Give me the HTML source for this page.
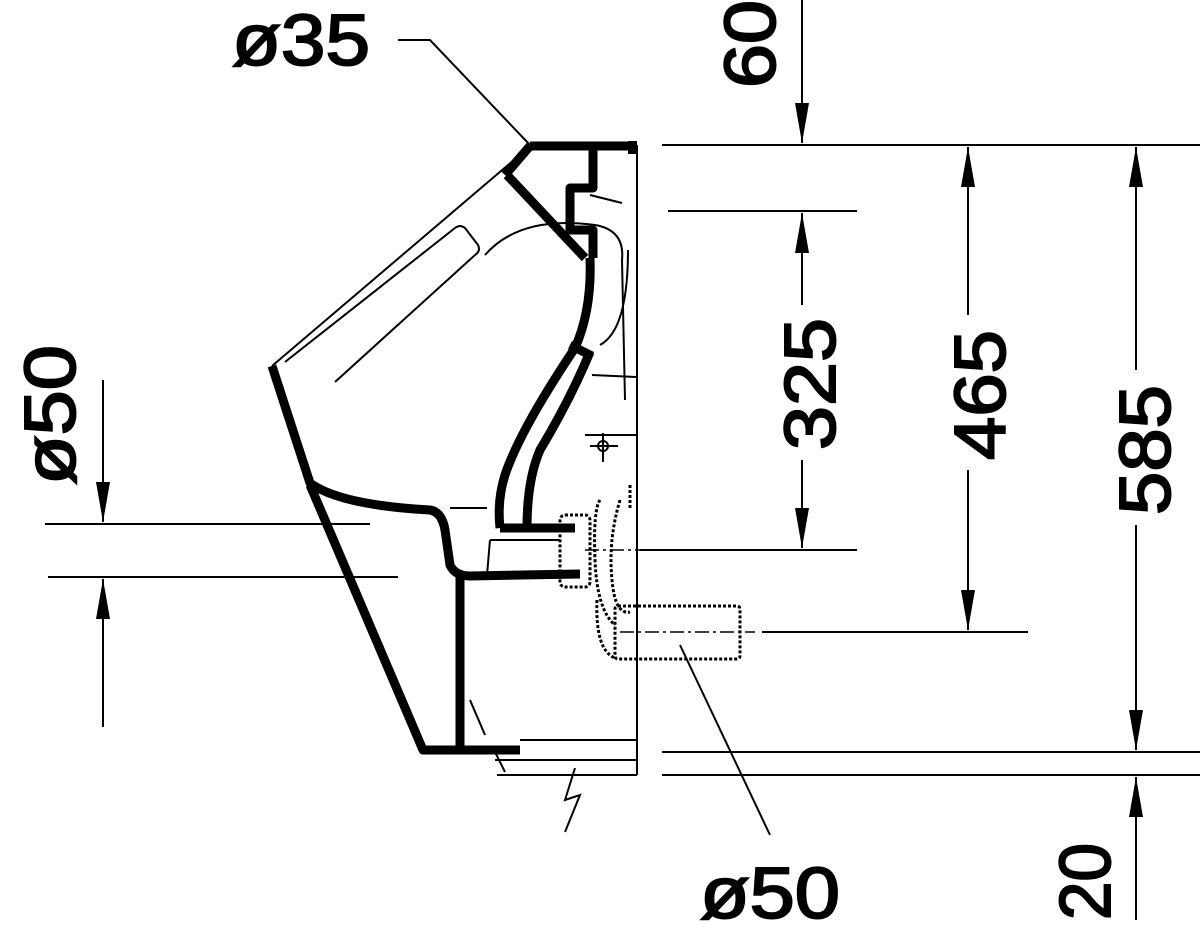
<!DOCTYPE html>
<html><head><meta charset="utf-8"><style>
html,body{margin:0;padding:0;background:#fff;}
svg{display:block;}
text{font-family:"Liberation Sans",sans-serif;font-size:72px;fill:#000;stroke:#000;stroke-width:2px;}
</style></head><body>
<svg width="1200" height="936" viewBox="0 0 1200 936" xmlns="http://www.w3.org/2000/svg">
<defs>
<marker id="ah" viewBox="0 0 40 14" refX="40" refY="7" markerWidth="40" markerHeight="14" markerUnits="userSpaceOnUse" orient="auto-start-reverse"><path d="M0,0 L40,7 L0,14 Z" fill="#000"/></marker>
</defs>
<g stroke="#000" fill="none">
<g stroke-width="2">
<line x1="662" y1="145" x2="1200" y2="145"/>
<line x1="668" y1="211" x2="857" y2="211"/>
<line x1="640" y1="550" x2="857" y2="550"/>
<line x1="762" y1="632" x2="1028" y2="632"/>
<line x1="662" y1="752" x2="1200" y2="752"/>
<line x1="662" y1="775" x2="1200" y2="775"/>
<line x1="45" y1="524" x2="370" y2="524"/>
<line x1="48" y1="577" x2="398" y2="577"/>
</g>
<g stroke-width="2">
<line x1="802" y1="0" x2="802" y2="143" marker-end="url(#ah)"/>
<line x1="802" y1="213" x2="802" y2="305" marker-start="url(#ah)"/>
<line x1="802" y1="460" x2="802" y2="548" marker-end="url(#ah)"/>
<line x1="968" y1="147" x2="968" y2="315" marker-start="url(#ah)"/>
<line x1="968" y1="470" x2="968" y2="630" marker-end="url(#ah)"/>
<line x1="1136" y1="147" x2="1136" y2="370" marker-start="url(#ah)"/>
<line x1="1136" y1="525" x2="1136" y2="750" marker-end="url(#ah)"/>
<line x1="1136" y1="920" x2="1136" y2="777" marker-end="url(#ah)"/>
<line x1="103" y1="380" x2="103" y2="522" marker-end="url(#ah)"/>
<line x1="103" y1="727" x2="103" y2="579" marker-end="url(#ah)"/>
<polyline points="398,40 430,40 530,145"/>
<line x1="680" y1="645" x2="770" y2="835"/>
</g>
<g stroke-width="2">
<line x1="637" y1="145" x2="637" y2="775"/>
<line x1="528" y1="148" x2="272" y2="366"/>
<line x1="285" y1="362" x2="455" y2="228"/>
<path d="M455,228 Q460,224 465,228 L478,245 Q481,251 475,255 L335,382"/>
<path d="M485,255 Q520,215 595,225 Q625,230 622,260 L625,400"/>
<path d="M628,250 Q628,330 600,345"/>
<line x1="590" y1="195" x2="622" y2="203"/>
<line x1="592" y1="375" x2="637" y2="377"/>
<line x1="585" y1="435" x2="637" y2="435"/>
<line x1="450" y1="508" x2="487" y2="508"/>
<path d="M490,540 L487,575"/>
<line x1="490" y1="540" x2="560" y2="540"/>
<line x1="470" y1="700" x2="485" y2="735"/>
<line x1="520" y1="740" x2="637" y2="740"/>
<line x1="495" y1="760" x2="637" y2="760"/>
<line x1="497" y1="775" x2="637" y2="775"/>
<path d="M495,752 L505,772"/>
<polyline points="575,768 565,800 580,795 565,832"/>
<circle cx="603" cy="446" r="5"/>
<line x1="590" y1="446" x2="618" y2="446"/><line x1="603" y1="433" x2="603" y2="462"/>
</g>
<g stroke-width="9" stroke-linejoin="round">
<polyline points="530,146 637,146"/>
<rect x="628" y="141" width="9" height="13" fill="#000" stroke="none"/>
<line x1="507" y1="175" x2="585" y2="258"/>
<line x1="530" y1="146" x2="505" y2="175"/>
<polyline points="593,150 593,188 570,188 570,230 593,230 593,258"/>
<path d="M590,258 Q592,310 575,348 Q520,430 505,475 Q497,500 500,528"/>
<path d="M590,352 Q570,400 540,450 Q527,480 527,528"/>
<line x1="570" y1="345" x2="592" y2="356"/>
<line x1="500" y1="528" x2="575" y2="528"/>
<path d="M272,366 L310,483 Q340,505 430,510 Q442,512 445,530 L450,565 Q455,576 470,576 L580,574"/>
<polyline points="310,485 423,750 520,750"/>
<line x1="460" y1="576" x2="460" y2="748"/>
</g>
<g stroke-width="3" stroke-dasharray="3,2">
<rect x="560" y="515" width="30" height="72" rx="5"/>
<path d="M600,500 Q593,510 595,560 Q597,610 615,625"/>
<path d="M620,500 Q608,540 612,580 Q615,615 630,612"/>
<path d="M597,600 Q595,650 615,658"/>
<rect x="615" y="606" width="125" height="53" rx="3"/>
<line x1="630" y1="485" x2="630" y2="510"/>
</g>
<g stroke-width="1.5" stroke-dasharray="14,4,3,4">
<line x1="585" y1="550" x2="640" y2="550"/>
<line x1="620" y1="632" x2="755" y2="632"/>
</g>
</g>
<text x="232" y="65" textLength="138" lengthAdjust="spacingAndGlyphs">ø35</text>
<text x="700" y="918" textLength="140" lengthAdjust="spacingAndGlyphs">ø50</text>
<text transform="translate(775,88) rotate(-90)" textLength="88" lengthAdjust="spacingAndGlyphs">60</text>
<text transform="translate(835,450) rotate(-90)" textLength="132" lengthAdjust="spacingAndGlyphs">325</text>
<text transform="translate(1005,460) rotate(-90)" textLength="130" lengthAdjust="spacingAndGlyphs">465</text>
<text transform="translate(1170,515) rotate(-90)" textLength="130" lengthAdjust="spacingAndGlyphs">585</text>
<text transform="translate(1110,920) rotate(-90)" textLength="77" lengthAdjust="spacingAndGlyphs">20</text>
<text transform="translate(75,485) rotate(-90)" textLength="140" lengthAdjust="spacingAndGlyphs">ø50</text>
</svg>
</body></html>
